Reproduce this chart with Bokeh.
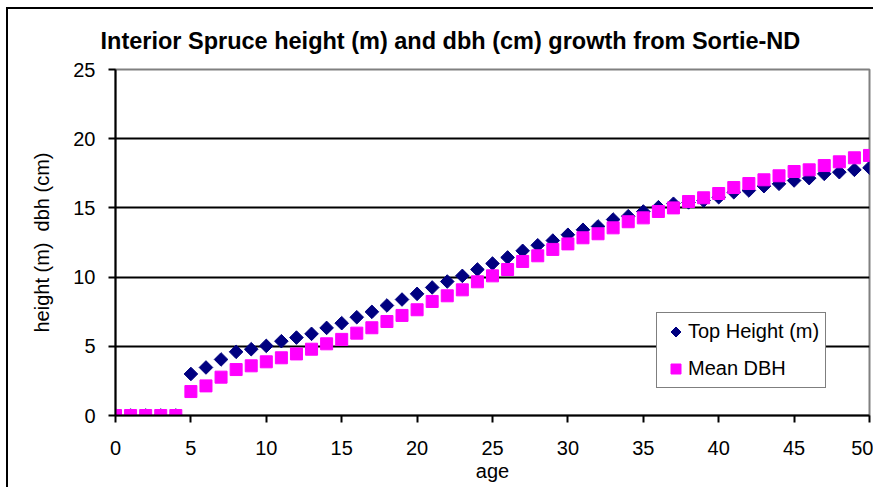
import numpy as np
from bokeh.plotting import figure
from bokeh.models import Range1d, FixedTicker, Legend, LegendItem, Title
from bokeh.embed import file_html
from bokeh.resources import INLINE

age = list(range(0, 51))
top_height = [0, 0, 0, 0, 0,
              3.0, 3.47, 4.05, 4.6, 4.79, 5.03, 5.37, 5.63, 5.9, 6.33, 6.67,
              7.1, 7.49, 7.95, 8.38, 8.79, 9.25, 9.68, 10.09, 10.55, 10.98,
              11.42, 11.9, 12.3, 12.64, 13.06, 13.42, 13.66, 14.16, 14.4, 14.74,
              15.05, 15.3, 15.4, 15.53, 15.77, 16.13, 16.26, 16.57, 16.74, 16.98,
              17.15, 17.46, 17.58, 17.75, 17.9]
mean_dbh = [0, 0, 0, 0, 0,
            1.73, 2.14, 2.77, 3.32, 3.59, 3.88, 4.17, 4.45, 4.79, 5.18, 5.5,
            5.95, 6.34, 6.79, 7.23, 7.64, 8.24, 8.65, 9.08, 9.66, 10.09,
            10.55, 11.13, 11.54, 12.0, 12.4, 12.84, 13.13, 13.56, 14.0, 14.28,
            14.74, 15.0, 15.46, 15.73, 16.04, 16.47, 16.76, 17.03, 17.32, 17.63,
            17.75, 18.06, 18.33, 18.62, 18.79]
x_ticks = [0, 5, 10, 15, 20, 25, 30, 35, 40, 45, 50]
y_ticks = [0, 5, 10, 15, 20, 25]

FONT = "Liberation Sans"

p = figure(width=867, height=480, output_backend="svg", toolbar_location=None,
           x_range=Range1d(0, 50), y_range=Range1d(0, 25),
           min_border_left=107, min_border_right=6, min_border_top=60, min_border_bottom=74)
p.styles = {"border-left": "2px solid black", "border-top": "2px solid black",
            "margin-left": "6px", "margin-top": "7px"}

p.title.visible = False
t = Title(text="Interior Spruce height (m) and dbh (cm) growth from Sortie-ND",
          text_font=FONT, text_font_size="23.5px", text_font_style="bold",
          text_color="black", align="left", offset=-15, standoff=32)
p.add_layout(t, "above")

p.outline_line_color = "#808080"
p.outline_line_width = 2
p.background_fill_color = "white"
p.border_fill_color = "white"

p.xgrid.visible = False
p.ygrid.grid_line_color = "black"
p.ygrid.grid_line_width = 2
p.ygrid.ticker = FixedTicker(ticks=[5, 10, 15, 20])

for ax in (p.xaxis[0], p.yaxis[0]):
    ax.axis_line_color = "black"
    ax.axis_line_width = 2
    ax.major_tick_line_color = "black"
    ax.major_tick_line_width = 2
    ax.major_tick_out = 7
    ax.major_tick_in = 0
    ax.minor_tick_line_color = None
    ax.major_label_text_font = FONT
    ax.major_label_text_font_size = "20px"
    ax.major_label_text_color = "black"
    ax.axis_label_text_font = FONT
    ax.axis_label_text_font_size = "20px"
    ax.axis_label_text_font_style = "normal"
    ax.axis_label_text_color = "black"

p.xaxis.ticker = FixedTicker(ticks=x_ticks)
p.yaxis.ticker = FixedTicker(ticks=y_ticks)
p.xaxis.axis_label = "age"
p.yaxis.axis_label = "height (m)\u00a0 dbh (cm)"
p.xaxis.major_label_standoff = 18
p.yaxis.major_label_standoff = 13
p.xaxis.axis_label_standoff = 2
p.yaxis.axis_label_standoff = 17

r1 = p.ngon(age, top_height, radius=6.8, radius_units="screen", n=4,
            fill_color="#000080", line_color="#000080")
r2 = p.scatter(age, mean_dbh, marker="square", size=12,
               fill_color="#FF00FF", line_color="#FF00FF")

legend = Legend(items=[LegendItem(label="Top Height (m)", renderers=[r1]),
                       LegendItem(label="Mean DBH", renderers=[r2])],
                location=(541, 27), glyph_width=25, glyph_height=25,
                label_standoff=0, padding=6, spacing=12, margin=0,
                label_text_font=FONT, label_text_font_size="20px",
                label_text_color="black", label_height=25,
                border_line_color="black", border_line_width=1.5,
                background_fill_color="white", background_fill_alpha=1)
p.add_layout(legend, "center")

open("out.html", "w").write(file_html(p, INLINE))
